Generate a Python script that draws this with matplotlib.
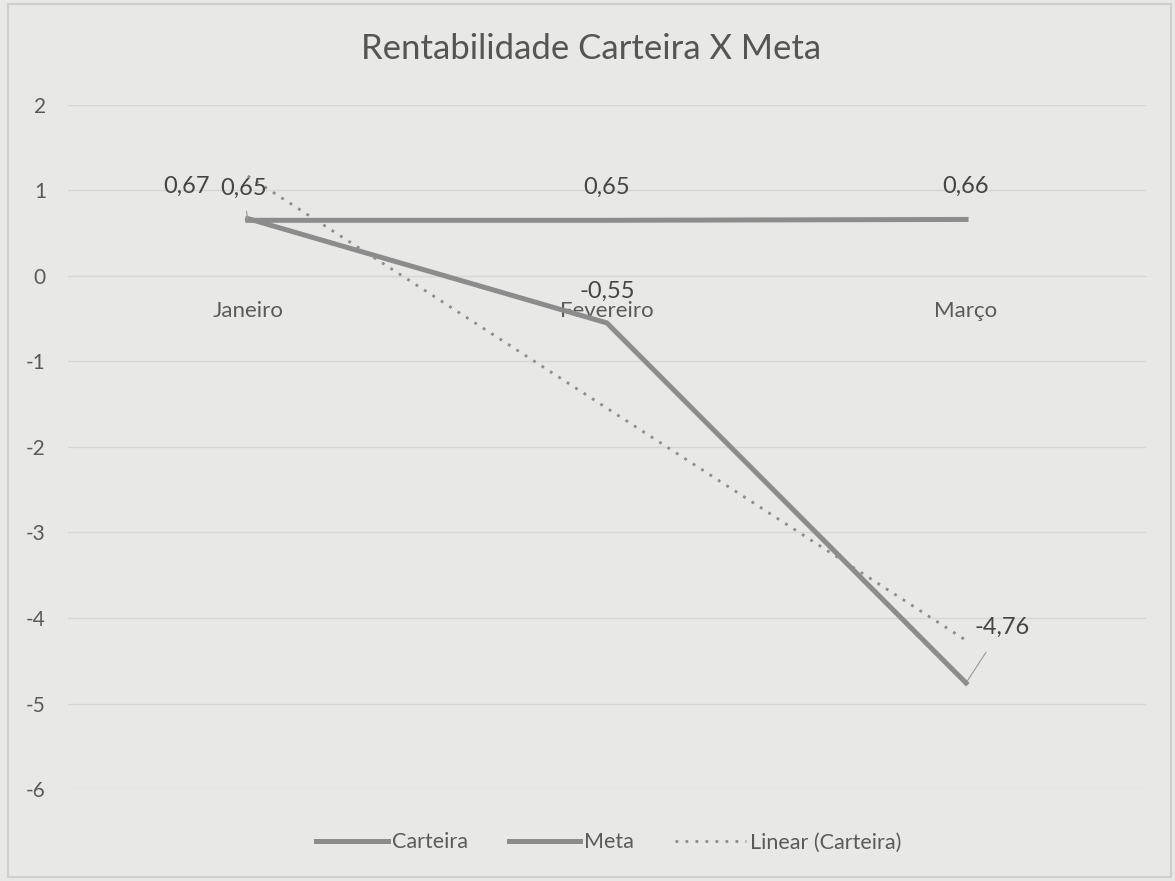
import matplotlib
matplotlib.use("Agg")
import matplotlib.pyplot as plt
import numpy as np

meses = ["Janeiro", "Fevereiro", "Março"]
carteira = [0.67, -0.55, -4.76]
meta = [0.65, 0.65, 0.66]
titulo = "Rentabilidade Carteira X Meta"

plt.rcParams['font.family'] = ['Lato', 'DejaVu Sans']
plt.rcParams['axes.unicode_minus'] = False

fundo = '#e8e8e6'
cinza = '#8c8c8c'
texto = '#5a5a5a'

fig = plt.figure(figsize=(11.75, 8.81), dpi=100, facecolor=fundo)
ax = fig.add_axes([0.058, 0.1044, 0.917, 0.7766])
ax.set_facecolor(fundo)

x = np.arange(len(meses))
ax.plot(x, carteira, color=cinza, lw=3.6, label="Carteira", solid_joinstyle='miter', zorder=3)
ax.plot(x, meta, color=cinza, lw=3.6, label="Meta", zorder=3)

# linha de tendencia linear da carteira
coef = np.polyfit(x, carteira, 1)
ax.plot(x, np.polyval(coef, x), color=cinza, lw=2, ls=(0, (1, 2.6)),
        label="Linear (Carteira)", zorder=2)

ax.set_xlim(-0.5, 2.5)
ax.set_ylim(-6, 2)
ax.set_yticks(range(-6, 3))
ax.grid(axis='y', color='#d6d6d4', lw=1)
ax.set_axisbelow(True)
for s in ['top', 'right', 'left']:
    ax.spines[s].set_visible(False)
ax.spines['bottom'].set_position(('data', 0))
ax.spines['bottom'].set_color('#d6d6d4')
ax.set_xticks(x)
ax.set_xticklabels(meses)
ax.tick_params(axis='x', length=0, pad=18, labelsize=16, labelcolor=texto)
ax.tick_params(axis='y', length=0, pad=16, labelsize=15, labelcolor=texto)

# rotulos de dados
fs = 17
cor_rot = '#444444'
ax.annotate("0,67", (0, carteira[0]), xytext=(-44, 23), textcoords='offset points',
            ha='center', va='center', fontsize=fs, color=cor_rot)
ax.annotate("0,65", (0, meta[0]), xytext=(-3, 23), textcoords='offset points',
            ha='center', va='center', fontsize=fs, color=cor_rot,
            arrowprops=dict(arrowstyle='-', color='#9a9a9a', lw=0.8, shrinkA=7, shrinkB=1))
ax.annotate("0,65", (1, meta[1]), xytext=(0, 24), textcoords='offset points',
            ha='center', va='center', fontsize=fs, color=cor_rot)
ax.annotate("0,66", (2, meta[2]), xytext=(0, 24), textcoords='offset points',
            ha='center', va='center', fontsize=fs, color=cor_rot)
ax.annotate("-0,55", (1, carteira[1]), xytext=(0, 23), textcoords='offset points',
            ha='center', va='center', fontsize=fs, color=cor_rot)
ax.annotate("-4,76", (2, carteira[2]), xytext=(26, 40), textcoords='offset points',
            ha='center', va='center', fontsize=fs, color=cor_rot,
            arrowprops=dict(arrowstyle='-', color='#9a9a9a', lw=0.8, shrinkA=10, shrinkB=1))

fig.suptitle(titulo, x=0.503, y=0.962, fontsize=25, color='#555555')

leg = ax.legend(loc='center', bbox_to_anchor=(0.502, -0.078), ncol=3, frameon=False,
                fontsize=15.5, handlelength=3.3, handletextpad=0.2, columnspacing=1.9)
for t in leg.get_texts():
    t.set_color(texto)

fig.patches.append(plt.Rectangle((0.007, 0.005), 0.99, 0.99, transform=fig.transFigure,
                                 fill=False, edgecolor='#cfcfcd', lw=1.5))

fig.savefig("out.png", dpi=100, facecolor=fundo)
